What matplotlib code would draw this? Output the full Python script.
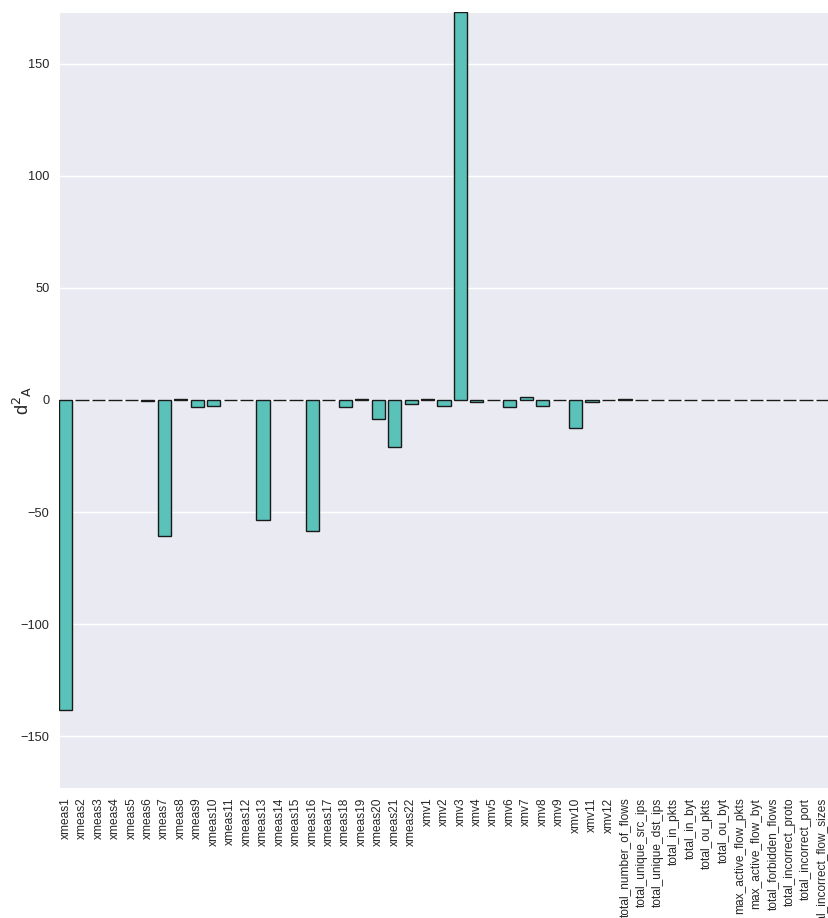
import matplotlib
matplotlib.use("Agg")
import matplotlib.pyplot as plt
import seaborn as sns

sns.set_style("darkgrid")
plt.rcParams['font.family'] = ['Liberation Sans', 'DejaVu Sans']

xmeas_names = [f"xmeas{i}" for i in range(1, 23)]
xmv_names = [f"xmv{i}" for i in range(1, 13)]
net_names = [
    "total_number_of_flows", "total_unique_src_ips", "total_unique_dst_ips",
    "total_in_pkts", "total_in_byt", "total_ou_pkts", "total_ou_byt",
    "max_active_flow_pkts", "max_active_flow_byt", "total_forbidden_flows",
    "total_incorrect_proto", "total_incorrect_port", "total_incorrect_flow_sizes",
]

xmeas_vals = [-138.4, 0.0, 0.0, 0.0, 0.0, -0.5, -60.7, 0.3, -3.0, -2.8, 0.0,
              0.0, -53.6, -0.2, 0.0, -58.5, 0.0, -2.9, 0.3, -8.5, -21.0, -1.9]
xmv_vals = [0.5, -2.5, 173.0, -1.0, 0.0, -3.1, 1.2, -2.5, 0.0, -12.7, -0.9, 0.0]
net_vals = [0.3, 0.0, 0.0, 0.0, 0.0, 0.0, 0.0, 0.0, 0.0, 0.0, 0.0, 0.0, 0.0]

labels = xmeas_names + xmv_names + net_names
values = xmeas_vals + xmv_vals + net_vals

fig = plt.figure(figsize=(8.29, 9.18), dpi=100)
ax = fig.add_axes([59 / 829, 1 - 788 / 918, 1 - 59 / 829, (788 - 12) / 918])

pos = list(range(len(labels)))
ax.bar(pos, values, width=0.8, color="#5bc2ba", edgecolor="#1a1a1a", linewidth=1.0, zorder=3)

ax.set_xlim(-0.4, len(labels) - 0.6)
ax.set_ylim(-173, 173)
ax.set_yticks([-150, -100, -50, 0, 50, 100, 150])
ax.set_xticks(pos)
ax.set_xticklabels(labels, rotation=90, fontsize=8.6, color="#262626")
ax.tick_params(axis="y", labelsize=9.2, labelcolor="#262626")
ax.xaxis.grid(False)
ax.yaxis.grid(True, color="white", linewidth=1.0)
ax.set_ylabel(r"d$^2$$_\mathrm{A}$", fontsize=13, color="#262626")
ax.yaxis.set_label_coords(-0.033, 0.5)

fig.savefig("out.png", dpi=100)
